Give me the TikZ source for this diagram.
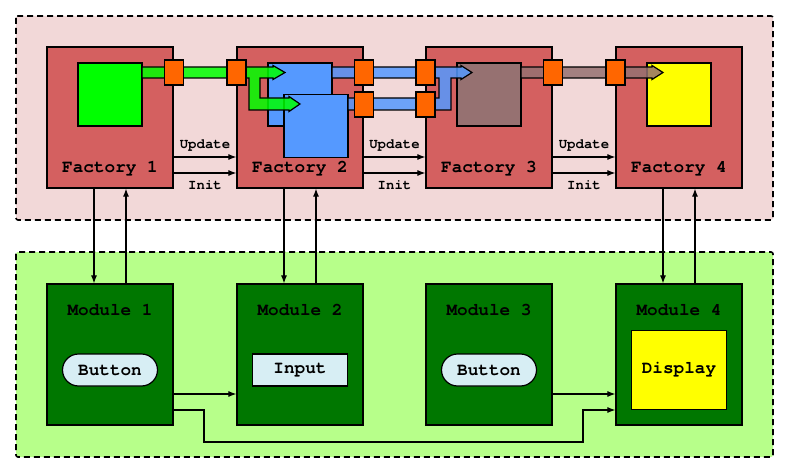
\documentclass[tikz,border=0pt]{standalone}
\usepackage{fontspec}
\setmonofont{texgyrecursor}[Extension=.otf, UprightFont=*-regular,
  BoldFont=*-bold, ItalicFont=*-italic, BoldItalicFont=*-bolditalic]
\usetikzlibrary{shapes}
\usetikzlibrary{arrows.meta}

\definecolor{panel_pink}{RGB}{242,216,216}
\definecolor{panel_green}{RGB}{183,255,138}
\definecolor{factory_red}{RGB}{212,96,96}
\definecolor{module_green}{RGB}{0,119,0}
\definecolor{data_green}{RGB}{0,255,0}
\definecolor{data_blue}{RGB}{85,153,255}
\definecolor{data_brown}{RGB}{150,113,113}
\definecolor{data_yellow}{RGB}{255,255,0}
\definecolor{port_orange}{RGB}{255,102,0}
\definecolor{widget_blue}{RGB}{215,238,244}

\tikzset{
  box_text/.style = {inner sep=0pt, font=\ttfamily\bfseries\fontsize{17.7}{20}\selectfont},
  small_text/.style = {inner sep=0pt, font=\ttfamily\bfseries\fontsize{14}{16}\selectfont},
  panel/.style = {draw=black, line width=1.6pt, dash pattern=on 6pt off 4pt,
    rounded corners=2pt},
  factory_box/.style = {draw=black, fill=factory_red, line width=1.2pt,
    minimum width=126pt, minimum height=141pt, inner sep=0pt},% fabrique
  module_box/.style = {factory_box, fill=module_green},% module
  data_box/.style = {draw=black, line width=1.2pt, minimum width=64pt,
    minimum height=63pt, inner sep=0pt},% donnees
  port/.style = {draw=black, fill=port_orange, line width=1.2pt,
    minimum width=19pt, minimum height=25pt, inner sep=0pt},% port
  band/.style = {draw=black, line width=1.2pt, fill opacity=0.85,
    line join=miter},% flux
  widget/.style = {box_text, draw=black, fill=widget_blue, line width=1.2pt,
    minimum width=95pt, minimum height=32pt},
  conn/.style = {line width=1.1pt, -{Latex[length=8pt,width=6pt]}}
}

\begin{document}
\begin{tikzpicture}[x=1pt, y=-1pt]
    \useasboundingbox (0,0) rectangle (789,473);

    % panneaux
    \draw[panel, fill=panel_pink] (16,16) rectangle (773,220);
    \draw[panel, fill=panel_green] (16,252) rectangle (773,457);

    % fabriques
    \node [factory_box] (f1) at (110,117.5) {};
    \node [factory_box] (f2) at (300,117.5) {};
    \node [factory_box] (f3) at (489,117.5) {};
    \node [factory_box] (f4) at (679,117.5) {};
    \node [box_text] (f1_lbl) at ([yshift=20pt]f1.south) {Factory 1};
    \node [box_text] (f2_lbl) at ([yshift=20pt]f2.south) {Factory 2};
    \node [box_text] (f3_lbl) at ([yshift=20pt]f3.south) {Factory 3};
    \node [box_text] (f4_lbl) at ([yshift=20pt]f4.south) {Factory 4};

    % donnees
    \node [data_box, fill=data_green] (d1) at ([yshift=23pt]f1.center) {};
    \node [data_box, fill=data_blue] (d2a) at ([yshift=23pt]f2.center) {};
    \node [data_box, fill=data_blue] (d2b) at ([xshift=16pt,yshift=-8.5pt]f2.center) {};
    \node [data_box, fill=data_brown] (d3) at ([yshift=23pt]f3.center) {};
    \node [data_box, fill=data_yellow] (d4) at ([yshift=23pt]f4.center) {};

    % flux
    \draw [band, fill=data_green] (142,67) -- (273,67) -- (273,65.5) -- (285,72.5)
      -- (273,79.5) -- (273,78) -- (260,78) -- (260,98) -- (289,98) -- (289,96.5)
      -- (300,104) -- (289,111.5) -- (289,110) -- (249,110) -- (249,78)
      -- (142,78) -- cycle;
    \draw [band, fill=data_blue] (332,67) -- (461,67) -- (461,65.5) -- (472,72.5)
      -- (461,79.5) -- (461,78) -- (451,78) -- (451,110) -- (348,110) -- (348,98)
      -- (439,98) -- (439,78) -- (332,78) -- cycle;
    \draw [band, fill=data_brown] (521,67) -- (652,67) -- (652,65.5) -- (663,72.5)
      -- (652,79.5) -- (652,78) -- (521,78) -- cycle;

    % ports
    \node [port] (p1) at ([yshift=45pt]f1.east) {};
    \node [port] (p2) at ([yshift=45pt]f2.west) {};
    \node [port] (p3) at ([yshift=45pt]f2.east) {};
    \node [port] (p4) at ([yshift=13pt]f2.east) {};
    \node [port] (p5) at ([yshift=45pt]f3.west) {};
    \node [port] (p6) at ([yshift=13pt]f3.west) {};
    \node [port] (p7) at ([yshift=45pt]f3.east) {};
    \node [port] (p8) at ([yshift=45pt]f4.west) {};

    % update / init
    \draw [conn] ([yshift=-39.5pt]f1.east) -- node [small_text, above=5pt] {Update} ([yshift=-39.5pt]f2.west);
    \draw [conn] ([yshift=-55.5pt]f1.east) -- node [small_text, below=7pt] {Init} ([yshift=-55.5pt]f2.west);
    \draw [conn] ([yshift=-39.5pt]f2.east) -- node [small_text, above=5pt] {Update} ([yshift=-39.5pt]f3.west);
    \draw [conn] ([yshift=-55.5pt]f2.east) -- node [small_text, below=7pt] {Init} ([yshift=-55.5pt]f3.west);
    \draw [conn] ([yshift=-39.5pt]f3.east) -- node [small_text, above=5pt] {Update} ([yshift=-39.5pt]f4.west);
    \draw [conn] ([yshift=-55.5pt]f3.east) -- node [small_text, below=7pt] {Init} ([yshift=-55.5pt]f4.west);

    % modules
    \node [module_box] (m1) at (110,354.5) {};
    \node [module_box] (m2) at (300,354.5) {};
    \node [module_box] (m3) at (489,354.5) {};
    \node [module_box] (m4) at (679,354.5) {};
    \node [box_text] (m1_lbl) at ([yshift=-27pt]m1.north) {Module 1};
    \node [box_text] (m2_lbl) at ([yshift=-27pt]m2.north) {Module 2};
    \node [box_text] (m3_lbl) at ([yshift=-27pt]m3.north) {Module 3};
    \node [box_text] (m4_lbl) at ([yshift=-27pt]m4.north) {Module 4};

    \node [widget, rounded rectangle] (btn1) at ([yshift=-15.5pt]m1.center) {Button};
    \node [widget] (inp2) at ([yshift=-15.5pt]m2.center) {Input};
    \node [widget, rounded rectangle] (btn3) at ([yshift=-15.5pt]m3.center) {Button};
    \node [widget, fill=data_yellow, minimum height=79pt] (disp4) at ([yshift=-15.5pt]m4.center) {Display};

    % fabrique <-> module
    \draw [conn] ([xshift=-16pt]f1.south) -- ([xshift=-16pt]m1.north);
    \draw [conn] ([xshift=16pt]m1.north) -- ([xshift=16pt]f1.south);
    \draw [conn] ([xshift=-16pt]f2.south) -- ([xshift=-16pt]m2.north);
    \draw [conn] ([xshift=16pt]m2.north) -- ([xshift=16pt]f2.south);
    \draw [conn] ([xshift=-16pt]f4.south) -- ([xshift=-16pt]m4.north);
    \draw [conn] ([xshift=16pt]m4.north) -- ([xshift=16pt]f4.south);

    % module -> module
    \draw [conn] ([yshift=-39.5pt]m1.east) -- ([yshift=-39.5pt]m2.west);
    \draw [conn] ([yshift=-39.5pt]m3.east) -- ([yshift=-39.5pt]m4.west);
    \draw [conn] ([yshift=-55.5pt]m1.east) -- (204,410) -- (204,442) -- (583,442)
      -- (583,410) -- ([yshift=-55.5pt]m4.west);
  \end{tikzpicture}
\end{document}
